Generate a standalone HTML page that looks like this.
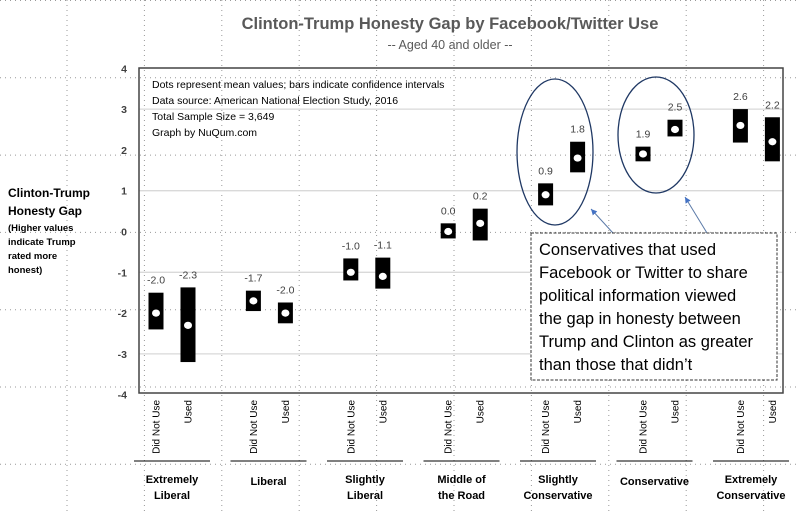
<!DOCTYPE html>
<html><head><meta charset="utf-8"><style>
body{margin:0;background:#fff;width:800px;height:515px;overflow:hidden}
svg{font-family:"Liberation Sans",sans-serif}
</style></head><body>
<svg id="chart" width="800" height="515" viewBox="0 0 800 515" xmlns="http://www.w3.org/2000/svg">
<g id="pagegrid"></g>
<text x="450" y="29" text-anchor="middle" font-size="16.5" font-weight="bold" fill="#595959">Clinton-Trump Honesty Gap by Facebook/Twitter Use</text>
<text x="450" y="49" text-anchor="middle" font-size="12.5" fill="#595959">-- Aged 40 and older --</text>
<g id="gridlines"></g>
<g id="yticks"></g>
<rect x="139" y="68" width="644" height="325" fill="none" stroke="#444" stroke-width="1.5"/>
<g font-weight="bold" fill="#000">
<text x="8" y="197" font-size="12">Clinton-Trump</text>
<text x="8" y="215" font-size="12">Honesty Gap</text>
<text x="8" y="231" font-size="9.5">(Higher values</text>
<text x="8" y="245" font-size="9.5">indicate Trump</text>
<text x="8" y="259" font-size="9.5">rated more</text>
<text x="8" y="273" font-size="9.5">honest)</text>
</g>
<g font-size="10.5" fill="#000">
<text x="152" y="88">Dots represent mean values; bars indicate confidence intervals</text>
<text x="152" y="104">Data source: American National Election Study, 2016</text>
<text x="152" y="120">Total Sample Size = 3,649</text>
<text x="152" y="136">Graph by NuQum.com</text>
</g>
<g id="marks"></g>
<g id="xlabels"></g>
<ellipse cx="555" cy="152" rx="38" ry="73" fill="none" stroke="#1f3864" stroke-width="1.3"/>
<ellipse cx="656" cy="135" rx="38" ry="58" fill="none" stroke="#1f3864" stroke-width="1.3"/>
<defs><marker id="ah" markerWidth="8" markerHeight="8" refX="6" refY="3" orient="auto"><path d="M0,0 L6,3 L0,6 z" fill="#4472c4"/></marker></defs>
<line x1="613" y1="233" x2="591" y2="209" stroke="#5b7aa8" stroke-width="1" marker-end="url(#ah)"/>
<line x1="707" y1="233" x2="685" y2="197" stroke="#5b7aa8" stroke-width="1" marker-end="url(#ah)"/>
<rect x="531" y="233" width="246" height="147" fill="#fff" stroke="#333" stroke-width="1" stroke-dasharray="3,1.5"/>
<g font-size="16.5" fill="#000">
<text x="539" y="255">Conservatives that used</text>
<text x="539" y="278">Facebook or Twitter to share</text>
<text x="539" y="301">political information viewed</text>
<text x="539" y="324">the gap in honesty between</text>
<text x="539" y="347">Trump and Clinton as greater</text>
<text x="539" y="370">than those that didn’t</text>
</g>
</svg>
<script>
const groups = ["Extremely|Liberal","Liberal","Slightly|Liberal","Middle of|the Road","Slightly|Conservative","Conservative","Extremely|Conservative"];
const subgroups = ["Did Not Use","Used"];
const means = [-2.0,-2.3,-1.7,-2.0,-1.0,-1.1,0.0,0.2,0.9,1.8,1.9,2.5,2.6,2.2];
const ciLow = [-2.4,-3.2,-1.95,-2.25,-1.2,-1.4,-0.17,-0.22,0.64,1.45,1.72,2.33,2.18,1.72];
const ciHigh = [-1.5,-1.37,-1.45,-1.74,-0.66,-0.64,0.2,0.56,1.18,2.2,2.08,2.74,3.0,2.8];
const yTicks = [-4,-3,-2,-1,0,1,2,3,4];
const NS="http://www.w3.org/2000/svg";
function el(t,a,p){const e=document.createElementNS(NS,t);for(const k in a)e.setAttribute(k,a[k]);p.appendChild(e);return e;}
const y = v => 231.5 - v*40.8;
const barX = i => { const g=Math.floor(i/2), s=i%2; return 156 + g*97.4 + s*32; };
// page dotted grid
const pg=document.getElementById('pagegrid');
for(let k=0;k<11;k++){const x=67+77.4*k;const l=el('line',{x1:x,y1:0,x2:x,y2:515,stroke:'#999','stroke-width':1,'stroke-dasharray':'1,4'},pg);}
for(let k=0;k<7;k++){const yy=0.5+77.3*k;const l=el('line',{x1:0,y1:yy,x2:800,y2:yy,stroke:'#999','stroke-width':1,'stroke-dasharray':'1,4'},pg);}
const gl=document.getElementById('gridlines'), yt=document.getElementById('yticks');
yTicks.forEach(v=>{
  if(v%2!==0){const l=el('line',{x1:139,y1:y(v),x2:783,y2:y(v),stroke:'#d9d9d9','stroke-width':1.3},gl);}
  const t=el('text',{x:127,y:y(v)+4,'text-anchor':'end','font-size':10.5,'font-weight':'bold',fill:'#404040'},yt);t.textContent=v;
  
});
const mk=document.getElementById('marks');
means.forEach((m,i)=>{
  const x=barX(i);
  const r=el('rect',{x:x-7.5,y:y(ciHigh[i]),width:15,height:y(ciLow[i])-y(ciHigh[i]),fill:'#000'},mk);
  
  const c=el('ellipse',{cx:x,cy:y(m),rx:4,ry:3.6,fill:'#fff'},mk);
  
  const t=el('text',{x:x,y:y(ciHigh[i])-9,'text-anchor':'middle','font-size':10.5,fill:'#404040'},mk);t.textContent=m.toFixed(1);
  
});
const xl=document.getElementById('xlabels');
means.forEach((m,i)=>{
  const x=barX(i)+3.5;
  const t=el('text',{x:0,y:0,transform:`translate(${x},400) rotate(-90)`,'text-anchor':'end','font-size':10,fill:'#000'},xl);
  t.textContent=subgroups[i%2];
  
});
groups.forEach((g,k)=>{
  const cx=172+k*96.5;
  const l=el('line',{x1:cx-38,y1:461,x2:cx+38,y2:461,stroke:'#000','stroke-width':1},xl);
  
  const parts=g.split('|');
  const t=el('text',{x:cx,y:parts.length>1?483:485,'text-anchor':'middle','font-size':11,'font-weight':'bold',fill:'#000'},xl);
  
  parts.forEach((p,j)=>{const s=el('tspan',{x:cx,dy:j?16:0},t);s.textContent=p;});
});
</script>
</body></html>
